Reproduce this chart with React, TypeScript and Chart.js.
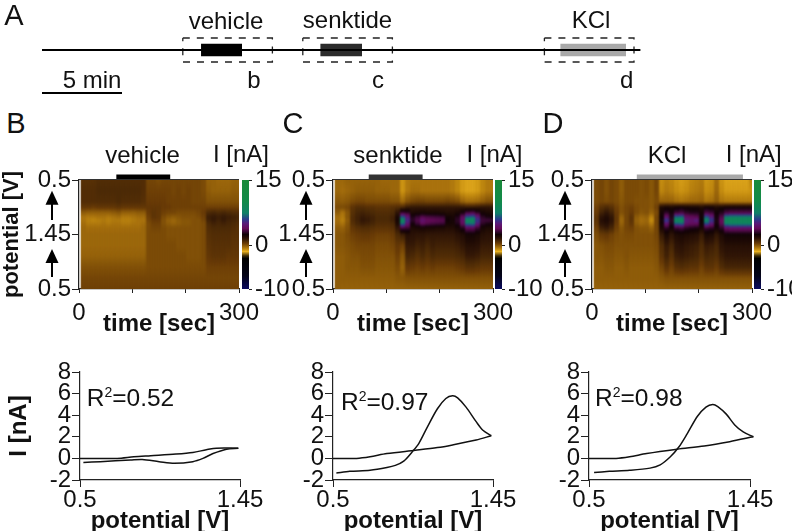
import React, { useEffect, useRef } from "react";
import { Chart, registerables } from "chart.js";
Chart.register(...registerables);

const FONT = "'Liberation Sans', Arial, sans-serif";
const INK = "#111";

// ---------- timeline (minutes) ----------
const timelineSpan = [0, 37.4];
const scaleBarSpan = [0, 5];
const eventNames = ["vehicle", "senktide", "KCl"];
const eventStarts = [9.94, 17.4, 32.4];
const eventEnds = [12.5, 20, 36.5];
const boxStarts = [8.8, 16.3, 31.4];
const boxEnds = [14.4, 21.9, 37];
const eventColors = ["#000000", "#2b2b2b", "#a9a9a9"];

// ---------- colour bar ----------
const cbarValues = [-10, -7, -3, -2.4, -1.4, -0.9, -0.4, 0, 0.5, 1, 1.5, 2, 2.5, 3.2, 3.9, 5, 6, 7.4, 10, 15];
const cbarColors = ["#0a0a60", "#030318", "#000000", "#3a2a08", "#e8b020", "#c48c10", "#a26c0c", "#875608", "#683a06", "#4c2a06", "#311606", "#1e0a05", "#100206", "#3a0834", "#640a58", "#5a1a78", "#2a3a8a", "#0f8068", "#118a4a", "#1a8a3a"];
const cbarTicks = [-10, 0, 15];

// ---------- heat maps: current (nA), one row per scan position, one value per time column ----------
const scanPositions = [0, 0.1, 0.2, 0.25, 0.3, 0.34, 0.37, 0.4, 0.44, 0.5, 0.6, 0.7, 0.8, 0.9, 1];
const timeColumns = Array.from("abcdefghijklmnopqrstuvwxyzABCDEF");
const heatB = [
  [.8,.8,.8,.9,.9,.9,.9,.9,.9,.9,.9,.9,.9,.3,.3,.2,.3,.3,.3,.3,.3,.3,.3,.3,.2,-.2,-.2,-.3,-.3,-.3,-.2,-.2],
  [.9,.9,.9,1,1,1,1,1,1,1,1,1,.9,.4,.4,.4,.4,.4,.3,.4,.3,.4,.3,.3,.2,-.1,-.2,-.2,-.2,-.2,-.1,-.1],
  [.9,.9,.9,.9,.9,.9,.9,1,.9,.9,.9,.9,.8,.5,.5,.5,.5,.4,.4,.4,.4,.4,.3,.3,.3,.1,.1,.1,.1,.1,.1,.1],
  [.6,.6,.5,.6,.6,.6,.6,.7,.6,.6,.6,.6,.6,.6,.6,.6,.5,.5,.4,.4,.4,.4,.4,.4,.4,.4,.4,.4,.4,.4,.4,.4],
  [-.1,-.2,-.2,-.2,-.2,-.2,-.1,0,-.2,-.2,-.2,-.1,-.1,.5,.7,.6,.4,.3,.3,.2,.2,.2,.2,.3,.5,1,1.1,1,1.1,1,.9,.9],
  [-.5,-.6,-.6,-.5,-.5,-.6,-.5,-.4,-.6,-.6,-.5,-.4,-.4,.4,.7,.6,.2,0,-.1,0,.1,.1,.1,.2,.4,1.3,1.4,1.3,1.4,1.3,1.2,1.1],
  [-.5,-.7,-.8,-.7,-.6,-.7,-.6,-.6,-.7,-.7,-.6,-.5,-.5,.3,.5,.5,.1,-.2,-.3,-.1,0,0,.1,.1,.3,1.2,1.4,1.2,1.4,1.2,1.1,1],
  [-.4,-.6,-.6,-.6,-.5,-.6,-.5,-.5,-.6,-.6,-.5,-.5,-.4,.2,.4,.4,.1,-.1,-.2,-.1,0,0,.1,.1,.2,1,1.2,1.1,1.2,1.1,1,.9],
  [-.3,-.4,-.4,-.4,-.4,-.4,-.4,-.4,-.4,-.4,-.4,-.4,-.3,.2,.3,.3,.2,.1,.1,.1,.1,.1,.1,.1,.2,.9,1,1,1,1,.9,.8],
  [-.3,-.3,-.3,-.3,-.3,-.3,-.3,-.3,-.3,-.3,-.3,-.3,-.3,.2,.2,.2,.2,.1,.1,.1,.1,.1,.1,.1,.2,.8,.9,.9,.9,.9,.8,.8],
  [-.3,-.3,-.3,-.3,-.3,-.3,-.3,-.3,-.3,-.3,-.3,-.3,-.3,.2,.2,.2,.2,.2,.2,.1,.1,.1,.1,.1,.2,.7,.8,.8,.8,.8,.7,.7],
  [-.2,-.2,-.2,-.2,-.2,-.2,-.2,-.2,-.2,-.2,-.2,-.2,-.2,.2,.2,.2,.2,.2,.2,.2,.2,.1,.1,.1,.2,.6,.7,.7,.7,.6,.6,.6],
  [.1,.1,.1,.1,.1,.1,.1,.1,.1,.1,.1,.1,.1,.2,.2,.2,.2,.2,.2,.2,.2,.2,.2,.2,.2,.4,.4,.4,.4,.4,.4,.4],
  [.3,.3,.3,.3,.3,.3,.3,.3,.3,.3,.3,.3,.3,.3,.3,.3,.3,.3,.3,.3,.3,.3,.3,.3,.3,.3,.3,.3,.3,.3,.3,.3],
  [.4,.4,.4,.4,.4,.4,.4,.4,.4,.4,.4,.4,.4,.4,.4,.4,.4,.4,.4,.4,.4,.4,.4,.4,.4,.4,.4,.4,.4,.4,.4,.4],
];
const heatC = [
  [-.3,-.3,-.2,-.2,-.2,-.2,-.2,-.2,-.2,-.3,-.3,-.3,-.3,-1,-.6,-.5,-.5,-.5,-.5,-.5,-.5,-.5,-.5,-.6,-.8,-1.1,-1.2,-1.2,-1.1,-.8,-.6,-.6],
  [-.3,-.4,-.3,-.2,-.1,-.1,-.1,-.1,-.2,-.2,-.2,-.3,-.3,-1,-.6,-.4,-.4,-.5,-.5,-.5,-.5,-.5,-.5,-.6,-.8,-1.1,-1.2,-1.2,-1.1,-.8,-.6,-.6],
  [0,-.1,0,.2,.3,.3,.2,.2,.2,.2,.2,.1,.1,-.3,.1,.3,.4,.4,.3,.3,.3,.3,.4,.3,.2,-.2,-.4,-.4,-.3,-.1,.1,.1],
  [.2,.2,.3,.7,.9,.9,.8,.8,.7,.7,.7,.8,.9,1,1.4,1.5,1.5,1.5,1.5,1.5,1.5,1.5,1.5,1.5,1.5,1.5,1.4,1.4,1.5,1.6,1.6,1.5],
  [-.1,-.5,0,.8,1.1,1.2,1.1,1,.9,.9,.9,1,1.6,3.2,3,2,2.1,2.2,2.1,2.1,2.1,2,1.9,1.9,2.1,2.6,3.4,3.6,3,2.3,2.1,2],
  [-.4,-.6,0,.9,1.2,1.4,1.3,1.2,1,1,1,1.2,2.1,6.5,4.8,2.8,3.2,3.7,3.5,3.4,3.3,3.2,2.4,2.2,2.8,4,6.4,6.8,5,3,2.7,2.5],
  [-.4,-.7,-.1,.9,1.2,1.5,1.4,1.2,1,1,1,1.2,2.2,8.5,5.5,3,3.6,4.6,4,3.9,3.8,3.7,2.5,2.3,3,4.4,8.6,8.8,5.8,3.3,3.3,3.2],
  [-.3,-.5,0,.8,1.1,1.3,1.2,1.1,.9,.9,.9,1,2,7,4.6,2.6,3.2,3.9,3.6,3.4,3.3,3.2,2.3,2.2,2.8,4,7,7.2,5,3,2.7,2.5],
  [-.1,-.2,.1,.6,.8,.9,.9,.8,.7,.7,.7,.8,1.5,3.4,3.2,2,2.1,2.2,2.1,2.1,2,2,1.9,1.9,2.2,2.8,3.9,3.9,3.2,2.2,2,2],
  [0,0,.2,.4,.5,.6,.6,.5,.4,.4,.4,.5,1,1.3,1.8,1.7,1.6,1.6,1.5,1.5,1.5,1.5,1.5,1.5,1.7,1.9,2.3,2.3,2.1,1.8,1.7,1.7],
  [0,0,.1,.2,.3,.3,.3,.3,.2,.2,.2,.3,.6,.4,1.4,1.4,1.2,1.3,1.1,1.3,1.2,1.2,1.2,1.2,1.3,1.5,1.8,1.8,1.7,1.4,1.4,1.4],
  [-.1,-.1,0,.1,.1,.2,.2,.2,.1,.1,.1,.1,.4,0,1.1,1,.8,1,.8,1,.9,.9,.9,.9,1,1.1,1.4,1.4,1.3,1.1,1.1,1.1],
  [-.1,-.1,0,0,0,.1,.1,.1,0,0,0,0,.2,-.2,.6,.5,.4,.5,.4,.5,.4,.4,.4,.4,.5,.6,.8,.8,.7,.6,.6,.6],
  [-.1,-.1,-.1,-.1,-.1,-.1,-.1,-.1,-.1,-.1,-.1,-.1,0,0,.1,.1,.1,.1,.1,.1,.1,.1,.1,.1,.1,.1,.1,.1,.1,.1,.1,.1],
  [-.1,-.2,-.2,-.2,-.2,-.2,-.2,-.2,-.2,-.2,-.2,-.2,-.2,-.2,-.2,-.2,-.2,-.2,-.2,-.2,-.2,-.2,-.2,-.2,-.2,-.2,-.2,-.2,-.2,-.2,-.2,-.2],
];
const heatD = [
  [.2,.3,.1,.3,.2,-.1,.2,.2,.2,.1,.2,0,.3,-.9,-.7,-.8,-1,-1.1,-1,-.8,-.7,-.6,-1,-.9,-.4,-1,-1.2,-1.2,-1.2,-1.2,-1.2,-.8],
  [.2,.3,.1,.3,.2,-.1,.2,.2,.2,.1,.2,0,.3,-.8,-.6,-.7,-.9,-1,-.9,-.7,-.6,-.5,-.9,-.8,-.3,-.9,-1.1,-1.1,-1.1,-1.1,-1.1,-1],
  [.2,.3,.2,.3,.2,0,.2,.2,.1,.1,.1,0,.2,-.2,-.2,-.2,-.4,-.5,-.4,-.3,-.3,-.2,-.5,-.4,-.1,-.5,-.6,-.6,-.6,-.6,-.6,-.6],
  [.4,.8,1,.8,.4,.1,.3,.4,.2,.1,.1,0,.4,2,2.2,2.1,2.3,2.4,2.3,2.2,2.2,2,2.4,2.3,2,2.2,2.4,2.4,2.4,2.4,2.4,2.4],
  [.5,1.2,1.5,1.2,.5,.1,.3,.5,.2,0,.1,-.2,.2,2.3,3,2.6,3.2,3.4,3,2.8,2.8,2.4,3.4,3.2,2.5,2.8,3.4,3.6,3.6,3.6,3.6,3.6],
  [.7,1.6,1.9,1.5,.6,-.2,.3,.7,-.1,-.3,-.2,-.7,.3,2.5,4.5,2.8,6.8,7,4.2,4,3.8,2.4,6.5,5,2.6,3.6,7.6,8,8,8,8,8],
  [.7,1.8,2,1.6,.6,-.3,.3,.7,-.2,-.4,-.3,-.9,.3,2.6,6,3,8.6,9,5,4.5,5.2,2.5,8.2,6,2.7,4,9,9,9,9,9,9.5],
  [.6,1.6,1.8,1.4,.5,-.2,.3,.6,-.1,-.3,-.2,-.6,.3,2.4,4.5,2.8,6.5,6.8,4.4,4.1,4,2.4,6.2,4.8,2.6,3.8,7.6,8,8,8,8,8],
  [.4,1.2,1.4,1.1,.4,0,.3,.4,.1,0,0,-.2,.3,2.1,3,2.4,3.2,3.4,3,2.8,2.7,2.2,3.2,3,2.4,3,4.2,4.4,4.4,4.4,4.4,4.4],
  [.2,.5,.6,.4,.2,.1,.2,.2,.1,.1,.1,.1,.3,1.4,2.1,1.6,2,2.1,2,1.9,1.8,1.4,2.1,2,1.5,2,2.4,2.4,2.4,2.4,2.4,2.4],
  [0,.1,.2,.2,.1,.1,.1,.1,.1,.1,.1,.1,.2,.9,1.4,1.1,1.6,1.7,1.5,1.4,1.3,1,1.4,1.3,1.1,1.6,1.8,1.8,1.8,1.8,1.8,1.8],
  [0,0,.1,.1,0,0,.1,0,0,0,0,0,.1,.7,1.2,.8,1.3,1.4,1.3,1.2,1.1,.8,1.1,1,.9,1.3,1.5,1.5,1.5,1.5,1.5,1.5],
  [-.1,-.1,0,0,-.1,-.1,0,-.1,-.1,-.1,-.1,-.1,0,.3,.7,.4,.8,.9,.8,.7,.7,.4,.7,.7,.5,.9,1.1,1.1,1.1,1.1,1.1,1.1],
  [-.1,-.1,-.1,-.1,-.1,-.1,-.1,-.1,-.1,-.1,-.1,-.1,-.1,0,.1,.1,.1,.1,.1,.1,.1,.1,.1,.1,.1,.1,.1,.1,.1,.1,.1,.1],
  [-.2,-.2,-.2,-.2,-.2,-.2,-.2,-.2,-.2,-.2,-.2,-.2,-.2,-.2,-.2,-.2,-.2,-.2,-.2,-.2,-.2,-.2,-.2,-.2,-.2,-.2,-.2,-.2,-.2,-.2,-.2,-.2],
];
const heatTimeTicks = ["0", "", "", "300"];
const heatScanTicks = ["0.5", "1.45", "0.5"];
const stimTimesB = [70, 171];
const stimTimesC = [67, 168];
const stimTimesD = [84, 283];
const arrowSpans = [[0.098, 0.367], [0.633, 0.89]];

// ---------- voltammograms: potential (V), current (nA) ----------
const fwdVB = [0.5, 0.72, 0.82, 0.92, 1.07, 1.17, 1.25, 1.31, 1.44];
const fwdIB = [0, 0, 0.15, 0.25, 0.4, 0.55, 0.8, 0.95, 0.95];
const revVB = [1.44, 1.37, 1.29, 1.23, 1.17, 1.06, 0.97, 0.87, 0.8, 0.62, 0.52];
const revIB = [0.95, 0.85, 0.45, 0, -0.3, -0.45, -0.3, -0.1, -0.15, -0.3, -0.37];
const fwdVC = [0.5, 0.64, 0.72, 0.82, 0.99, 1.12, 1.21, 1.35, 1.44];
const fwdIC = [0, 0, 0.15, 0.45, 0.75, 1, 1.25, 1.7, 2.1];
const revVC = [1.44, 1.39, 1.35, 1.29, 1.24, 1.21, 1.17, 1.12, 1.06, 1.01, 0.97, 0.92, 0.87, 0.82, 0.72, 0.6, 0.52];
const revIC = [2.1, 2.6, 3.4, 4.75, 5.6, 5.8, 5.55, 4.6, 2.9, 1.4, 0.6, -0.25, -0.65, -0.85, -1.1, -1.2, -1.35];
const fwdVD = [0.5, 0.66, 0.74, 0.84, 1.02, 1.18, 1.33, 1.47];
const fwdID = [0, 0, 0.15, 0.45, 0.85, 1.15, 1.55, 2];
const revVD = [1.47, 1.41, 1.36, 1.31, 1.26, 1.23, 1.19, 1.14, 1.08, 1.03, 0.98, 0.92, 0.86, 0.74, 0.62, 0.53];
const revID = [2, 2.45, 3.1, 4.1, 4.8, 5, 4.75, 3.9, 2.3, 1.05, 0.15, -0.6, -0.9, -1.1, -1.2, -1.3];
const cvPotentialTicks = [0.5, 1.45];

// ---------- free text ----------
type Lbl = { t: React.ReactNode; x: number; y: number; s?: number };
const sup2 = <sup style={{ fontSize: 14, lineHeight: 0, verticalAlign: 9 }}>2</sup>;
const labels: Lbl[] = [
  { t: "A", x: 14, y: 15, s: 29 },
  { t: "vehicle", x: 226, y: 21 },
  { t: "senktide", x: 347.5, y: 20 },
  { t: "KCl", x: 591, y: 20 },
  { t: "5 min", x: 92, y: 80 },
  { t: "b", x: 254, y: 80 },
  { t: "c", x: 378, y: 80 },
  { t: "d", x: 626.7, y: 80 },
  { t: "B", x: 16, y: 123, s: 29 },
  { t: "C", x: 293, y: 123, s: 29 },
  { t: "D", x: 553, y: 123, s: 29 },
  { t: "vehicle", x: 142.5, y: 155 },
  { t: "senktide", x: 398, y: 155 },
  { t: "KCl", x: 667, y: 155 },
  { t: "I [nA]", x: 241, y: 154 },
  { t: "I [nA]", x: 494.5, y: 154 },
  { t: "I [nA]", x: 753.7, y: 154 },
  { t: <>R{sup2}=0.52</>, x: 130.5, y: 398, s: 24.5 },
  { t: <>R{sup2}=0.97</>, x: 384.7, y: 401.5, s: 24.5 },
  { t: <>R{sup2}=0.98</>, x: 638.8, y: 398, s: 24.5 },
];

// ---------- helpers ----------
const hexToRgb = (h: string) => [1, 3, 5].map((i) => parseInt(h.slice(i, i + 2), 16));
const colorFor = (v: number) => {
  if (v <= cbarValues[0]) return cbarColors[0];
  for (let i = 1; i < cbarValues.length; i++) {
    if (v <= cbarValues[i]) {
      const f = (v - cbarValues[i - 1]) / (cbarValues[i] - cbarValues[i - 1]);
      const a = hexToRgb(cbarColors[i - 1]);
      const b = hexToRgb(cbarColors[i]);
      return `rgb(${a.map((c, k) => Math.round(c + (b[k] - c) * f)).join(",")})`;
    }
  }
  return cbarColors[cbarColors.length - 1];
};
const at = (v: number) => ({ size: v, family: FONT, lineHeight: 1 });
const pairs = (xs: number[], ys: number[]) => xs.map((x, i) => ({ x, y: ys[i] }));

// soften the time columns of the heat map, as in the reference, which is a smoothed image:
// a sharp pass of the bars first, so the blurred pass has the right colours beneath its edges
const softCells = {
  id: "softCells",
  beforeDatasetDraw(chart: any, args: any) {
    if (args.meta.type === "bar") {
      const { ctx, chartArea: a } = chart;
      ctx.save();
      ctx.beginPath();
      ctx.rect(a.left, a.top, a.right - a.left, a.bottom - a.top);
      ctx.clip();
      args.meta.data.forEach((el: any) => el.draw(ctx));
      ctx.restore();
      ctx.save();
      ctx.filter = "blur(1.3px)";
    }
  },
  afterDatasetDraw(chart: any, args: any) {
    if (args.meta.type === "bar") chart.ctx.restore();
  },
};

const frameAndArrows = {
  id: "frameAndArrows",
  afterDraw(chart: any) {
    const { ctx, chartArea: a, scales } = chart;
    ctx.save();
    ctx.strokeStyle = "#333";
    ctx.lineWidth = 1;
    ctx.beginPath();
    ctx.moveTo(a.left, a.top - 0.5);
    ctx.lineTo(a.right, a.top - 0.5);
    ctx.stroke();
    ctx.fillStyle = "#000";
    ctx.strokeStyle = "#000";
    ctx.lineWidth = 2;
    const x = a.left - 27;
    arrowSpans.forEach(([tip, tail]) => {
      const y0 = scales.y.getPixelForValue(tip);
      const y1 = scales.y.getPixelForValue(tail);
      ctx.beginPath();
      ctx.moveTo(x, y0 + 8);
      ctx.lineTo(x, y1);
      ctx.stroke();
      ctx.beginPath();
      ctx.moveTo(x, y0);
      ctx.lineTo(x + 6.5, y0 + 14);
      ctx.lineTo(x - 6.5, y0 + 14);
      ctx.closePath();
      ctx.fill();
    });
    ctx.restore();
  },
};

function timelineConfig() {
  const base = { parsing: true, pointRadius: 0, showLine: true, tension: 0, borderCapStyle: "butt" };
  const datasets: any[] = [];
  datasets.push({ ...base, label: "recording", borderColor: "#000", borderWidth: 2.2, data: pairs(timelineSpan, [0, 0]) });
  datasets.push({ ...base, label: "5 min", borderColor: "#000", borderWidth: 2.2, data: pairs(scaleBarSpan, [-43, -43]) });
  eventNames.forEach((n, i) => {
    datasets.push({
      ...base, label: n + " application", borderColor: eventColors[i], borderWidth: 12.5,
      data: [{ x: eventStarts[i], y: 0 }, { x: eventEnds[i], y: 0 }],
    });
    datasets.push({
      ...base, label: n + " window", borderColor: "#222", borderWidth: 1.3, borderDash: [7, 7],
      data: [
        { x: boxStarts[i], y: 12 }, { x: boxEnds[i], y: 12 }, { x: boxEnds[i], y: -12 },
        { x: boxStarts[i], y: -12 }, { x: boxStarts[i], y: 12 },
      ],
    });
  });
  return {
    type: "scatter",
    data: { datasets },
    options: {
      responsive: false, animation: false, layout: { padding: 0 },
      plugins: { legend: { display: false }, tooltip: { enabled: false } },
      scales: {
        x: { type: "linear", display: false, min: -2.625, max: 46.875 },
        y: { type: "linear", display: false, min: -50, max: 50 },
      },
    },
  };
}

function heatConfig(rows: number[][], stim: number[], stimColor: string, first: boolean, padLeft: number, padRight: number) {
  const colGradient = (c: any) => {
    const chart = c.chart;
    const sy = chart.scales.y;
    if (!sy || sy.top === undefined || c.dataIndex === undefined) return "#875608";
    const g = chart.ctx.createLinearGradient(0, sy.getPixelForValue(0), 0, sy.getPixelForValue(1));
    const col = rows.map((r) => r[c.dataIndex]);
    for (let k = 0; k <= 100; k++) {
      const p = k / 100;
      let j = 0;
      while (j < scanPositions.length - 2 && p > scanPositions[j + 1]) j++;
      const f = (p - scanPositions[j]) / (scanPositions[j + 1] - scanPositions[j]);
      g.addColorStop(p, colorFor(col[j] + (col[j + 1] - col[j]) * f));
    }
    return g;
  };
  return {
    type: "bar",
    data: {
      labels: timeColumns,
      datasets: [
        {
          type: "line", label: "stimulus", xAxisID: "xt", yAxisID: "y", clip: false, order: 0,
          borderColor: stimColor, borderWidth: 5.5, pointRadius: 0, borderCapStyle: "butt",
          data: pairs(stim, [-0.025, -0.025]),
        },
        {
          type: "bar", label: "current", xAxisID: "x", yAxisID: "y", order: 1,
          barThickness: 5.6,
          data: timeColumns.map(() => [-0.04, 1.04]),
          backgroundColor: colGradient, borderWidth: 0,
        },
      ],
    },
    options: {
      responsive: false, animation: false,
      layout: { padding: { top: 15, left: 0, right: padRight, bottom: 0 } },
      plugins: { legend: { display: false }, tooltip: { enabled: false } },
      scales: {
        x: { type: "category", display: false, labels: timeColumns, offset: true },
        xt: {
          type: "linear", axis: "x", position: "bottom", min: 0, max: 300, offset: false,
          afterFit: (s: any) => { s.height = 46; },
          afterBuildTicks: (s: any) => { s.ticks = [0, 100, 200, 300].map((value) => ({ value })); },
          ticks: { font: at(24), color: INK, padding: 8, maxRotation: 0, autoSkip: false, callback: (_: any, i: number) => heatTimeTicks[i] },
          grid: { offset: false, drawOnChartArea: false, tickLength: 4, color: "#222" },
          border: { color: "#222", width: 1.2 },
          title: { display: true, text: "time [sec]", color: INK, font: { ...at(24), weight: "bold" }, padding: { top: 0, bottom: -1 } },
        },
        y: {
          type: "linear", min: 0, max: 1, reverse: true, position: "left",
          afterFit: (s: any) => { s.width = padLeft; },
          afterBuildTicks: (s: any) => { s.ticks = [0, 0.5, 1].map((value) => ({ value })); },
          ticks: { font: at(24), color: INK, padding: 1, autoSkip: false, callback: (_: any, i: number) => heatScanTicks[i] },
          grid: { drawOnChartArea: false, tickLength: 7, color: "#222" },
          border: { color: "#222", width: 1.2 },
          title: { display: first, text: "potential [V]", color: INK, font: { ...at(22), weight: "bold" }, padding: { top: 1, bottom: 0 } },
        },
      },
    },
    plugins: [softCells, frameAndArrows],
  };
}

function colorbarConfig(scaleWidth: number) {
  const grad = (c: any) => {
    const sy = c.chart.scales.y;
    if (!sy || sy.top === undefined) return "#000";
    const g = c.chart.ctx.createLinearGradient(0, sy.getPixelForValue(-10), 0, sy.getPixelForValue(15));
    cbarValues.forEach((v, i) => g.addColorStop((v + 10) / 25, cbarColors[i]));
    return g;
  };
  return {
    type: "bar",
    data: {
      labels: ["I"],
      datasets: [{ label: "scale", data: [[-10, 15]], backgroundColor: grad, barPercentage: 1, categoryPercentage: 1, borderWidth: 0 }],
    },
    options: {
      responsive: false, animation: false,
      layout: { padding: { top: 15, left: 7, right: 0, bottom: 16 } },
      plugins: { legend: { display: false }, tooltip: { enabled: false } },
      scales: {
        x: { display: false },
        y: {
          type: "linear", position: "right", min: -10, max: 15,
          afterFit: (s: any) => { s.width = scaleWidth; },
          afterBuildTicks: (s: any) => { s.ticks = cbarTicks.map((value) => ({ value })); },
          ticks: { font: at(24), color: INK, padding: 3, callback: (v: any) => String(v) },
          grid: { drawOnChartArea: false, tickLength: 3, color: "#222" },
          border: { display: false },
        },
      },
    },
  };
}

function cvConfig(fv: number[], fi: number[], rv: number[], ri: number[], first: boolean, padRight: number, axisW: number) {
  const line = { showLine: true, pointRadius: 0, borderColor: "#111", borderWidth: 1.5, tension: 0.3, clip: false };
  return {
    type: "scatter",
    data: {
      datasets: [
        { ...line, label: "forward", data: pairs(fv, fi) },
        { ...line, label: "reverse", data: pairs(rv, ri) },
      ],
    },
    options: {
      responsive: false, animation: false,
      layout: { padding: { top: 17, left: 0, right: padRight, bottom: 0 } },
      plugins: { legend: { display: false }, tooltip: { enabled: false } },
      scales: {
        x: {
          type: "linear", min: 0.5, max: 1.45,
          afterFit: (s: any) => { s.height = 51; },
          afterBuildTicks: (s: any) => { s.ticks = cvPotentialTicks.map((value) => ({ value })); },
          ticks: { font: at(24), color: INK, padding: 1, maxRotation: 0, autoSkip: false, callback: (v: any) => String(v) },
          grid: { drawOnChartArea: false, tickLength: 7, color: "#222" },
          border: { color: "#222", width: 1.2 },
          title: { display: true, text: "potential [V]", color: INK, font: { ...at(24), weight: "bold" }, padding: { top: 0, bottom: -2 } },
        },
        y: {
          type: "linear", min: -2, max: 8,
          afterFit: (s: any) => { s.width = axisW; },
          ticks: { stepSize: 2, autoSkip: false, font: at(24), color: INK, padding: 1 },
          grid: { drawOnChartArea: false, tickLength: 8, color: "#222" },
          border: { color: "#222", width: 1.2 },
          title: { display: first, text: "I [nA]", color: INK, font: { ...at(24), weight: "bold" }, padding: { top: 7, bottom: 0 } },
        },
      },
    },
  };
}

const panels = [
  { l: 0, t: 0, w: 792, h: 100, cfg: () => timelineConfig() },
  { l: 0, t: 165, w: 270, h: 170, cfg: () => heatConfig(heatB, stimTimesB, "#000000", true, 79, 31) },
  { l: 270, t: 165, w: 260, h: 170, cfg: () => heatConfig(heatC, stimTimesC, "#333333", false, 63, 37) },
  { l: 530, t: 165, w: 262, h: 170, cfg: () => heatConfig(heatD, stimTimesD, "#a9a9a9", false, 62, 40) },
  { l: 235, t: 165, w: 60, h: 140, cfg: () => colorbarConfig(46) },
  { l: 488, t: 165, w: 60, h: 140, cfg: () => colorbarConfig(46) },
  { l: 747, t: 165, w: 45, h: 140, cfg: () => colorbarConfig(31) },
  { l: 0, t: 355, w: 270, h: 176, cfg: () => cvConfig(fwdVB, fwdIB, revVB, revIB, true, 30, 80) },
  { l: 270, t: 355, w: 260, h: 176, cfg: () => cvConfig(fwdVC, fwdIC, revVC, revIC, false, 37, 63) },
  { l: 530, t: 355, w: 262, h: 176, cfg: () => cvConfig(fwdVD, fwdID, revVD, revID, false, 42, 59) },
];

export default function App() {
  const refs = useRef<(HTMLCanvasElement | null)[]>([]);
  useEffect(() => {
    const charts = panels.map((p, i) => new Chart(refs.current[i] as any, p.cfg() as any));
    return () => charts.forEach((c) => c.destroy());
  }, []);
  return (
    <div style={{ position: "absolute", left: 0, top: 0, width: 792, height: 531, overflow: "hidden", background: "#fff", fontFamily: FONT, color: INK }}>
      {panels.map((p, i) => (
        <canvas
          key={i}
          ref={(el) => { refs.current[i] = el; }}
          width={p.w}
          height={p.h}
          style={{ position: "absolute", left: p.l, top: p.t, width: p.w, height: p.h }}
        />
      ))}
      {labels.map((b, i) => (
        <div
          key={i}
          style={{
            position: "absolute", left: b.x, top: b.y, transform: "translate(-50%,-50%)",
            fontSize: b.s ?? 24, lineHeight: 1, whiteSpace: "nowrap",
          }}
        >
          {b.t}
        </div>
      ))}
    </div>
  );
}
